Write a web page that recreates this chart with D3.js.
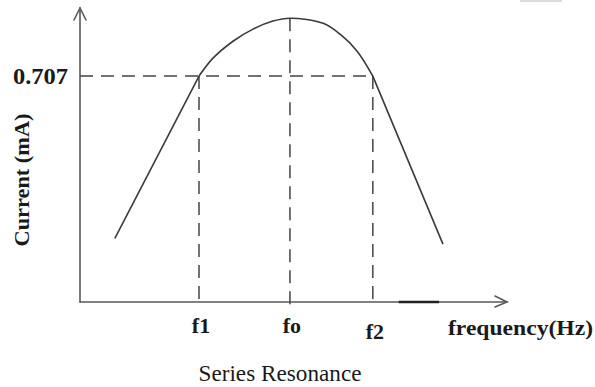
<!DOCTYPE html>
<html>
<head>
<meta charset="utf-8">
<script src="https://cdn.jsdelivr.net/npm/d3@7/dist/d3.min.js"></script>
<style>
  html, body { margin: 0; padding: 0; background: #fff; }
  svg { display: block; }
  text { font-family: "Liberation Serif", "Times New Roman", serif; fill: #1a1a1a; }
</style>
</head>
<body>
<svg id="chart" width="595" height="387"></svg>
<script>
// Frequency (arbitrary units) and current (mA) along the resonance curve
const leftLegFreq   = [8.2, 28.0];
const leftLegCurr   = [0.199, 0.707];
const peakFreq      = [28.0, 31.3, 36.0, 40.7, 45.4, 49.4, 57.2, 61.2, 65.2, 68.9];
const peakCurr      = [0.707, 0.763, 0.816, 0.854, 0.879, 0.888, 0.872, 0.838, 0.785, 0.707];
const rightLegFreq  = [68.9, 85.4];
const rightLegCurr  = [0.707, 0.181];

// Marked frequencies and the half-power level
const markFreq   = [28.0, 49.4, 68.9];
const markLabels = ["f1", "fo", "f2"];
const halfPower  = 0.707;
const peakValue  = 0.888;
const axisMark   = [75.0, 84.5];

const svg = d3.select("#chart");
const x = d3.scaleLinear().domain([0, 100]).range([80, 505]);
const y = d3.scaleLinear().domain([0, 0.92]).range([302, 8]);

const axisColor = "#5a5a5a";
const curveColor = "#3a3a3a";

// top-right faint strip
svg.append("rect").attr("x", 520).attr("y", 0).attr("width", 42).attr("height", 2)
  .attr("fill", "#dcdcdc");

// axes with open arrow heads
const x0 = x.range()[0], yBase = y.range()[0], yTop = y.range()[1], xEnd = x.range()[1] + 2;
const ax = svg.append("g").attr("stroke", axisColor).attr("fill", "none")
  .attr("stroke-width", 1.6).attr("stroke-linecap", "round");
ax.append("path").attr("d", `M${x0},${yBase}V${yTop}`);
ax.append("path").attr("d", `M${x0 - 6},${yTop + 12}L${x0},${yTop}L${x0 + 6},${yTop + 12}`);
ax.append("path").attr("d", `M${x0},${yBase}H${xEnd}`);
ax.append("path").attr("d", `M${xEnd - 12},${yBase - 6}L${xEnd},${yBase}L${xEnd - 12},${yBase + 5}`);

// dark segment on the frequency axis
svg.append("line")
  .attr("x1", x(axisMark[0])).attr("x2", x(axisMark[1]))
  .attr("y1", yBase).attr("y2", yBase)
  .attr("stroke", "#222").attr("stroke-width", 2.4);

// dashed guides
const dash = svg.append("g").attr("stroke", "#444").attr("stroke-width", 1.5)
  .attr("stroke-dasharray", "13,8").attr("fill", "none");
dash.append("line")
  .attr("x1", x0).attr("x2", x(markFreq[2]))
  .attr("y1", y(halfPower)).attr("y2", y(halfPower));
dash.append("line")
  .attr("x1", x(markFreq[0])).attr("x2", x(markFreq[0]))
  .attr("y1", y(halfPower)).attr("y2", yBase + 3);
dash.append("line")
  .attr("x1", x(markFreq[1])).attr("x2", x(markFreq[1]))
  .attr("y1", y(peakValue)).attr("y2", yBase + 3);
dash.append("line")
  .attr("x1", x(markFreq[2])).attr("x2", x(markFreq[2]))
  .attr("y1", y(halfPower)).attr("y2", yBase + 3);

// resonance curve
const straight = d3.line().x(d => x(d[0])).y(d => y(d[1]));
const smooth = d3.line().x(d => x(d[0])).y(d => y(d[1])).curve(d3.curveCatmullRom.alpha(0.5));
const g = svg.append("g").attr("fill", "none").attr("stroke", curveColor)
  .attr("stroke-width", 1.6).attr("stroke-linejoin", "round");
g.append("path").attr("d", straight(d3.zip(leftLegFreq, leftLegCurr)));
g.append("path").attr("d", smooth(d3.zip(peakFreq, peakCurr)));
g.append("path").attr("d", straight(d3.zip(rightLegFreq, rightLegCurr)));

// labels
svg.append("text")
  .attr("x", 68).attr("y", y(halfPower) + 8)
  .attr("text-anchor", "end").attr("font-weight", "bold").attr("font-size", 24)
  .attr("textLength", 55).attr("lengthAdjust", "spacingAndGlyphs")
  .text(halfPower.toFixed(3));

const labelDrop = [31, 31, 37];
svg.selectAll("text.flabel").data(markFreq).enter().append("text")
  .attr("class", "flabel")
  .attr("x", (d, i) => x(d) + 2)
  .attr("y", (d, i) => yBase + labelDrop[i])
  .attr("text-anchor", "middle").attr("font-weight", "bold").attr("font-size", 22)
  .text((d, i) => markLabels[i]);

svg.append("text")
  .attr("x", 448).attr("y", 335)
  .attr("font-weight", "bold").attr("font-size", 22)
  .attr("textLength", 145).attr("lengthAdjust", "spacingAndGlyphs")
  .text("frequency(Hz)");

svg.append("text")
  .attr("transform", "translate(29,180) rotate(-90)")
  .attr("text-anchor", "middle").attr("font-weight", "bold").attr("font-size", 22)
  .attr("textLength", 133).attr("lengthAdjust", "spacingAndGlyphs")
  .text("Current (mA)");

svg.append("text")
  .attr("x", 280).attr("y", 381)
  .attr("text-anchor", "middle").attr("font-size", 23)
  .attr("textLength", 163).attr("lengthAdjust", "spacingAndGlyphs")
  .text("Series Resonance");
</script>
</body>
</html>
